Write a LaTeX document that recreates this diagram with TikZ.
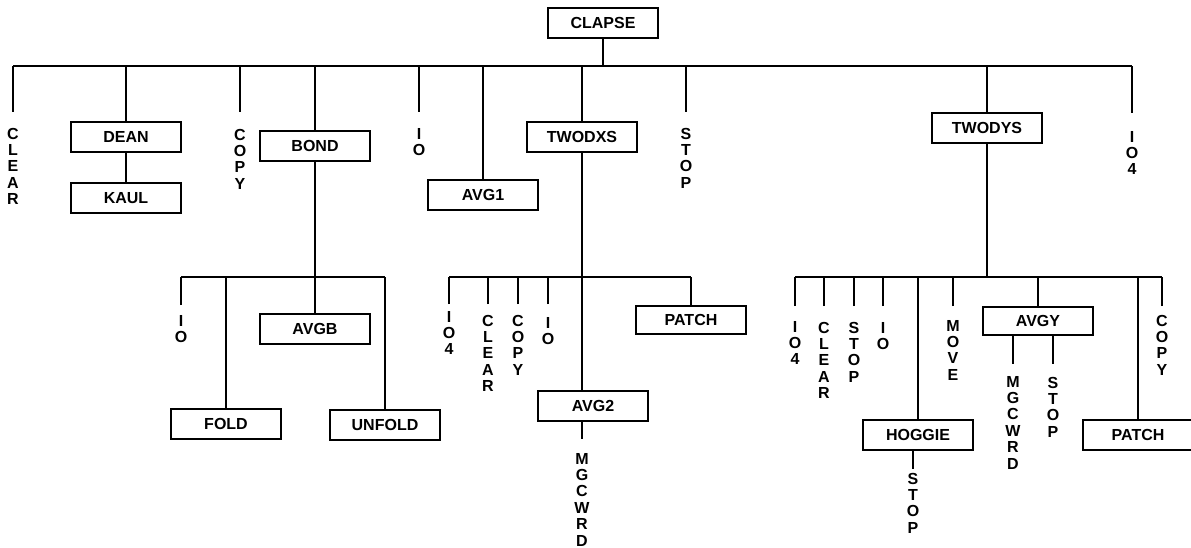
\documentclass[tikz,border=0pt]{standalone}
\usepackage{fontspec}
\setmainfont{Liberation Sans}
\usetikzlibrary{positioning}

\begin{document}
\begin{tikzpicture}[
        x=1pt, y=-1pt,
        box/.style={draw, line width=1.9pt, minimum width=110pt, minimum height=30pt, inner sep=0pt, font=\bfseries\fontsize{16}{16.4}\selectfont},
        leaf/.style={align=center, inner sep=0pt, outer ysep=#1, anchor=north, font=\bfseries\fontsize{16}{16.4}\selectfont},
        leaf/.default=11pt,
        link/.style={line width=1.9pt}
      ]
        \useasboundingbox (0,0) rectangle (1191,548);
        \node[box] (clapse) at (603,23) {CLAPSE};
        \coordinate (topbus) at (0,66);
        \coordinate (lowbus) at (0,277);

        \node[leaf=16pt] (clearA) at (13,112) {C\\L\\E\\A\\R};
        \node[box] (dean) at (126,137) {DEAN};
        \node[box, below=29pt of dean] (kaul) {KAUL};
        \node[leaf=17pt] (copyA) at (240,112) {C\\O\\P\\Y};
        \node[box] (bond) at (315,146) {BOND};
        \node[leaf=16pt] (ioA) at (419,112) {I\\O};
        \node[box] (avgone) at (483,195) {AVG1};
        \node[box] (twodxs) at (582,137) {TWODXS};
        \node[leaf=16pt] (stopA) at (686,112) {S\\T\\O\\P};
        \node[box] (twodys) at (987,128) {TWODYS};
        \node[leaf=18pt] (iofourA) at (1132,113) {I\\O\\4};

        \node[leaf=10pt] (ioB) at (181,305) {I\\O};
        \node[box] (fold) at (226,424) {FOLD};
        \node[box] (avgb) at (315,329) {AVGB};
        \node[box] (unfold) at (385,425) {UNFOLD};

        \node[leaf=7pt] (iofourB) at (449,304) {I\\O\\4};
        \node[leaf] (clearB) at (488,304) {C\\L\\E\\A\\R};
        \node[leaf] (copyB) at (518,304) {C\\O\\P\\Y};
        \node[leaf=13pt] (ioC) at (548,304) {I\\O};
        \node[box, minimum height=28pt] (patchA) at (691,320) {PATCH};
        \node[box] (avgtwo) at (593,406) {AVG2};
        \node[leaf=14pt] (mgcwrdA) at (582,439) {M\\G\\C\\W\\R\\D};

        \node[leaf=15pt] (iofourC) at (795,306) {I\\O\\4};
        \node[leaf=16pt] (clearC) at (824,306) {C\\L\\E\\A\\R};
        \node[leaf=16pt] (stopB) at (854,306) {S\\T\\O\\P};
        \node[leaf=16pt] (ioD) at (883,306) {I\\O};
        \node[box] (hoggie) at (918,435) {HOGGIE};
        \node[leaf=4pt] (stopC) at (913,469) {S\\T\\O\\P};
        \node[leaf=14pt] (moveA) at (953,306) {M\\O\\V\\E};
        \node[box, minimum height=28pt] (avgy) at (1038,321) {AVGY};
        \node[leaf=12pt] (mgcwrdB) at (1013,364) {M\\G\\C\\W\\R\\D};
        \node[leaf=13pt] (stopD) at (1053,364) {S\\T\\O\\P};
        \node[box] (patchB) at (1138,435) {PATCH};
        \node[leaf=9pt] (copyC) at (1162,306) {C\\O\\P\\Y};

        \draw[link] (clapse) -- (clapse |- topbus);
        \draw[link] (clearA.north |- topbus) -- (iofourA.north |- topbus);
        \foreach \n in {clearA,dean,copyA,bond,ioA,avgone,twodxs,stopA,twodys,iofourA}
          \draw[link] (\n.north) -- (\n.north |- topbus);
        \draw[link] (dean) -- (kaul);

        \draw[link] (bond) -- (bond |- lowbus);
        \draw[link] (ioB.north |- lowbus) -- (unfold.north |- lowbus);
        \foreach \n in {ioB,fold,avgb,unfold}
          \draw[link] (\n.north) -- (\n.north |- lowbus);

        \draw[link] (twodxs) -- (twodxs |- avgtwo.north);
        \draw[link] (iofourB.north |- lowbus) -- (patchA.north |- lowbus);
        \foreach \n in {iofourB,clearB,copyB,ioC,patchA}
          \draw[link] (\n.north) -- (\n.north |- lowbus);
        \draw[link] (mgcwrdA.north |- avgtwo.south) -- (mgcwrdA.north);

        \draw[link] (twodys) -- (twodys |- lowbus);
        \draw[link] (iofourC.north |- lowbus) -- (copyC.north |- lowbus);
        \foreach \n in {iofourC,clearC,stopB,ioD,hoggie,moveA,avgy,patchB,copyC}
          \draw[link] (\n.north) -- (\n.north |- lowbus);
        \draw[link] (stopC.north |- hoggie.south) -- (stopC.north);
        \draw[link] (mgcwrdB.north |- avgy.south) -- (mgcwrdB.north);
        \draw[link] (stopD.north |- avgy.south) -- (stopD.north);
      \end{tikzpicture}
\end{document}
